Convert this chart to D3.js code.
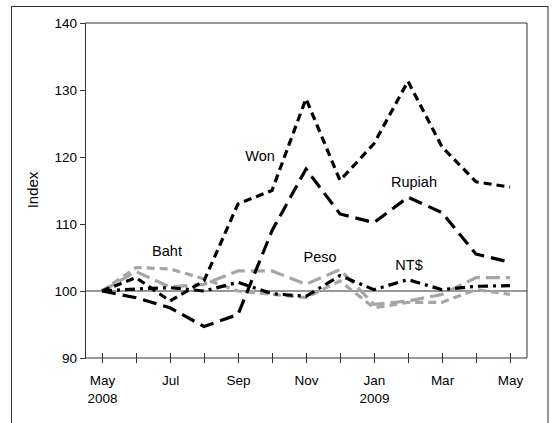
<!DOCTYPE html>
<html><head><meta charset="utf-8">
<script src="https://cdn.jsdelivr.net/npm/d3@7"></script>
<style>body{margin:0;background:#fff}svg{display:block}svg text{font-family:"Liberation Sans",Arial,sans-serif}</style>
</head><body><svg id="c" width="552" height="423"></svg>
<script>
const months = ["May08","Jun08","Jul08","Aug08","Sep08","Oct08","Nov08","Dec08","Jan09","Feb09","Mar09","Apr09","May09"];
const tickLabels = ["May","","Jul","","Sep","","Nov","","Jan","","Mar","","May"];
const yearLabels = ["2008","","","","","","","","2009","","","",""];
const yTicks = [90,100,110,120,130,140];
const won    = [100,102,98.5,101.5,113,115,128.7,116.5,122,131.3,121.5,116.3,115.5];
const rupiah = [100,99,97.5,94.7,96.5,109,118.2,111.5,110.2,114,111.7,105.5,104.3];
const ntd    = [100,100.3,100.5,100,101.3,99.6,99.2,102.3,100.2,101.7,100.2,100.7,100.8];
const baht   = [100,103.5,103.3,101.8,100,99.5,99,101.5,97.5,98.3,98.3,100.2,99.5];
const peso   = [100,102.9,100.6,101,103,103,101,103.2,98,98.5,99.5,102,102];

const series = [
  {name:"Baht", values:baht, color:"#a6a6a6", dash:"8,5"},
  {name:"Peso", values:peso, color:"#a6a6a6", dash:"14,6"},
  {name:"NT$", values:ntd, color:"#000", dash:"10,5,3,5"},
  {name:"Rupiah", values:rupiah, color:"#000", dash:"14,7"},
  {name:"Won", values:won, color:"#000", dash:"8,5"}
];
const labels = [
  {text:"Won", x:260, y:157},
  {text:"Rupiah", x:414, y:183},
  {text:"Baht", x:167, y:252},
  {text:"Peso", x:320, y:258},
  {text:"NT$", x:409, y:266}
];

const svg = d3.select("#c");
const L=85,R=527,T=23,B=358;
const x = d3.scalePoint().domain(months).range([L,R]).padding(0.5);
const y = d3.scaleLinear().domain([90,140]).range([B,T]);

svg.append("rect").attr("x",11.5).attr("y",6.5).attr("width",536.5).attr("height",430)
  .attr("fill","none").attr("stroke","#333").attr("stroke-width",1);

svg.append("path").attr("d",`M${L},${T}H${R}V${B}`).attr("fill","none").attr("stroke","#333").attr("stroke-width",1);

const ya = svg.append("g").attr("transform",`translate(${L},0)`)
  .call(d3.axisLeft(y).tickValues(yTicks).tickSize(5).tickPadding(3));
ya.attr("font-family",null).attr("font-size",null);
ya.select(".domain").attr("stroke","#333");
ya.selectAll("line").attr("stroke","#333");
ya.selectAll("text").attr("font-size",13.5).attr("fill","#000");

const xa = svg.append("g").attr("transform",`translate(0,${B})`)
  .call(d3.axisBottom(x).tickSize(5).tickFormat(""));
xa.attr("font-family",null).attr("font-size",null);
xa.select(".domain").attr("d",`M${L},0H${R}`).attr("stroke","#333");
xa.selectAll(".tick line").attr("y1",-5).attr("y2",5).attr("stroke","#333");
xa.selectAll(".tick").each(function(d,i){
  const g=d3.select(this);
  g.append("text").attr("y",27).attr("text-anchor","middle").attr("font-size",13.5).attr("fill","#000").text(tickLabels[i]);
  g.append("text").attr("y",45).attr("text-anchor","middle").attr("font-size",13.5).attr("fill","#000").text(yearLabels[i]);
});

svg.append("text").attr("transform",`translate(38,190) rotate(-90)`).attr("text-anchor","middle")
  .attr("font-size",15).text("Index");

svg.append("line").attr("x1",L).attr("x2",R).attr("y1",y(100)).attr("y2",y(100)).attr("stroke","#333").attr("stroke-width",1);

const line = d3.line().x((d,i)=>x(months[i])).y(d=>y(d));
series.forEach(s=>{
  svg.append("path").datum(s.values).attr("d",line).attr("fill","none")
    .attr("stroke",s.color).attr("stroke-width",3.2).attr("stroke-dasharray",s.dash);
});

labels.forEach(l=>{
  svg.append("text").attr("x",l.x).attr("y",l.y).attr("text-anchor","middle").attr("dominant-baseline","middle")
    .attr("font-size",14.5).text(l.text);
});
</script></body></html>
